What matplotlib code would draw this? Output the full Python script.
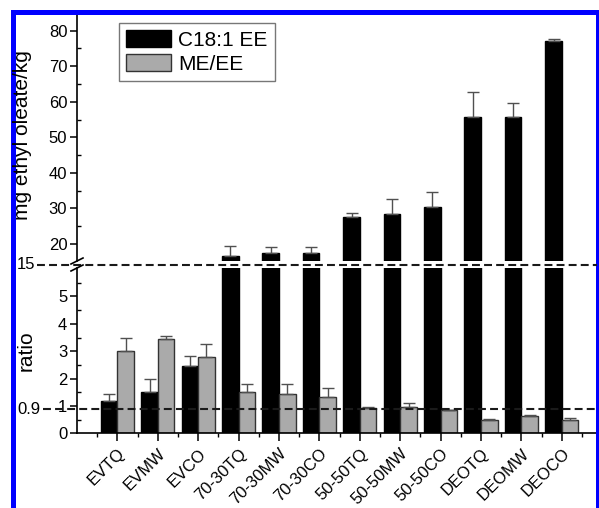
import numpy as np
import matplotlib
matplotlib.use("Agg")
import matplotlib.pyplot as plt
from matplotlib.lines import Line2D
from matplotlib.patches import Rectangle
import matplotlib.transforms as mtransforms

plt.rcParams['font.family'] = ['Liberation Sans', 'DejaVu Sans']

samples = ['EVTQ', 'EVMW', 'EVCO', '70-30TQ', '70-30MW', '70-30CO',
           '50-50TQ', '50-50MW', '50-50CO', 'DEOTQ', 'DEOMW', 'DEOCO']
ee = [1.18, 1.52, 2.46, 16.5, 17.5, 17.4, 27.5, 28.5, 30.3, 55.8, 55.7, 77.1]
ee_err = [0.25, 0.47, 0.38, 2.9, 1.5, 1.7, 1.1, 4.1, 4.4, 6.9, 4.0, 0.5]
ratio = [3.02, 3.45, 2.80, 1.50, 1.45, 1.33, 0.94, 0.96, 0.84, 0.49, 0.64, 0.49]
ratio_err = [0.48, 0.09, 0.47, 0.29, 0.34, 0.34, 0.02, 0.14, 0.01, 0.02, 0.04, 0.08]
upper_ticks = [20, 30, 40, 50, 60, 70, 80]
lower_ticks = [0, 1, 2, 3, 4, 5]
limit_ratio = 0.9
break_value = 15

W, H = 599, 508
fig = plt.figure(figsize=(W / 100, H / 100), dpi=100)

def fx(px):
    return px / W

def fy(py):
    return 1 - py / H

left, right = 77, 597
ax_top = fig.add_axes([fx(left), fy(261), fx(right - left), fy(15) - fy(261)])
ax_bot = fig.add_axes([fx(left), fy(433.3), fx(right - left), fy(268) - fy(433.3)])

x = np.arange(1, len(samples) + 1)
w = 0.41
ee = np.array(ee)
ee_err = np.array(ee_err)
ratio = np.array(ratio)
ratio_err = np.array(ratio_err)

ekw = dict(fmt='none', ecolor='#505050', elinewidth=1, capsize=4, capthick=1)

# black bars go in both panels, the axes clip them
for ax in (ax_top, ax_bot):
    ax.bar(x - w / 2, ee, w, color='black', edgecolor='black', lw=1,
           label='C18:1 EE', zorder=2)

big = ee > break_value
ax_top.errorbar(x[big] - w / 2, ee[big], yerr=[np.zeros(big.sum()), ee_err[big]], **ekw)
ax_bot.errorbar(x[~big] - w / 2, ee[~big], yerr=[np.zeros((~big).sum()), ee_err[~big]], **ekw)

ax_bot.bar(x + w / 2, ratio, w, color='#aaaaaa', edgecolor='#333333', lw=1,
           label='ME/EE', zorder=2)
ax_bot.errorbar(x + w / 2, ratio, yerr=[np.zeros(len(ratio)), ratio_err], **ekw)

ax_top.set_ylim(15.2, 84.4)
ax_bot.set_ylim(0, 6.04)
for ax in (ax_top, ax_bot):
    ax.set_xlim(0, 12.87)
    for s in ('top', 'right'):
        ax.spines[s].set_visible(False)
    ax.spines['left'].set_linewidth(1.2)
    ax.tick_params(axis='y', which='major', direction='out', length=5, width=1.1,
                   labelsize=12, pad=2)
    ax.tick_params(axis='y', which='minor', direction='in', length=3, width=1)

ax_top.spines['bottom'].set_visible(False)
ax_top.set_xticks([])
ax_top.set_yticks(upper_ticks)
ax_top.set_yticks(np.arange(25, 85, 10), minor=True)

ax_bot.spines['bottom'].set_linewidth(1.2)
ax_bot.set_yticks(lower_ticks)
ax_bot.set_yticks(np.arange(0.5, 6, 1.0), minor=True)
ax_bot.set_xticks(x)
ax_bot.set_xticks(np.arange(0.5, 13, 1.0), minor=True)
ax_bot.set_xticklabels(samples, rotation=45, ha='right', va='top',
                       rotation_mode='anchor', fontsize=12)
ax_bot.tick_params(axis='x', which='major', direction='out', length=6, width=1.1, pad=3)
ax_bot.tick_params(axis='x', which='minor', direction='out', length=3, width=1)

# 0.9 limit line, reaching left past the axis
trans = mtransforms.blended_transform_factory(ax_bot.transAxes, ax_bot.transData)
ax_bot.plot([fx(43 - left) / fx(right - left), 1], [limit_ratio, limit_ratio],
            transform=trans, color='#1a1a1a', lw=1.5, ls=(0, (3.8, 2)),
            clip_on=False, zorder=3)
fig.text(fx(41), fy(410), '0.9', ha='right', va='center', fontsize=12)

# break line at 15
yb = fy(264.5)
fig.add_artist(Line2D([fx(37), fx(right)], [yb, yb], color='#1a1a1a', lw=1.5,
                      ls=(0, (3.8, 2))))
fig.text(fx(35), yb, str(break_value), ha='right', va='center', fontsize=12)
for py in (261, 268):
    fig.add_artist(Line2D([fx(71), fx(83)], [fy(py + 3), fy(py - 3)],
                          color='black', lw=1.2))

fig.text(fx(23), fy(135), 'mg ethyl oleate/kg', rotation=90, ha='center',
         va='center', fontsize=15)
fig.text(fx(26), fy(351), 'ratio', rotation=90, ha='center', va='center', fontsize=15)

h1 = ax_top.patches[0]
h2 = ax_bot.patches[len(samples)]
leg = ax_top.legend([h1, h2], ['C18:1 EE', 'ME/EE'], loc='upper left',
                    bbox_to_anchor=(fx(119), fy(23)), bbox_transform=fig.transFigure,
                    borderaxespad=0, fontsize=15, handlelength=2.15, handleheight=0.85,
                    handletextpad=0.35, labelspacing=0.2, borderpad=0.35,
                    fancybox=False, edgecolor='#777777', framealpha=1)
leg.get_frame().set_linewidth(1)

# blue frame round the figure
fig.add_artist(Rectangle((fx(12.5), -0.05), fx(597.5 - 12.5), fy(12.5) + 0.05,
                         transform=fig.transFigure, fill=False, edgecolor='#0000ff',
                         lw=3.6, clip_on=False))

fig.savefig('out.png', dpi=100)
